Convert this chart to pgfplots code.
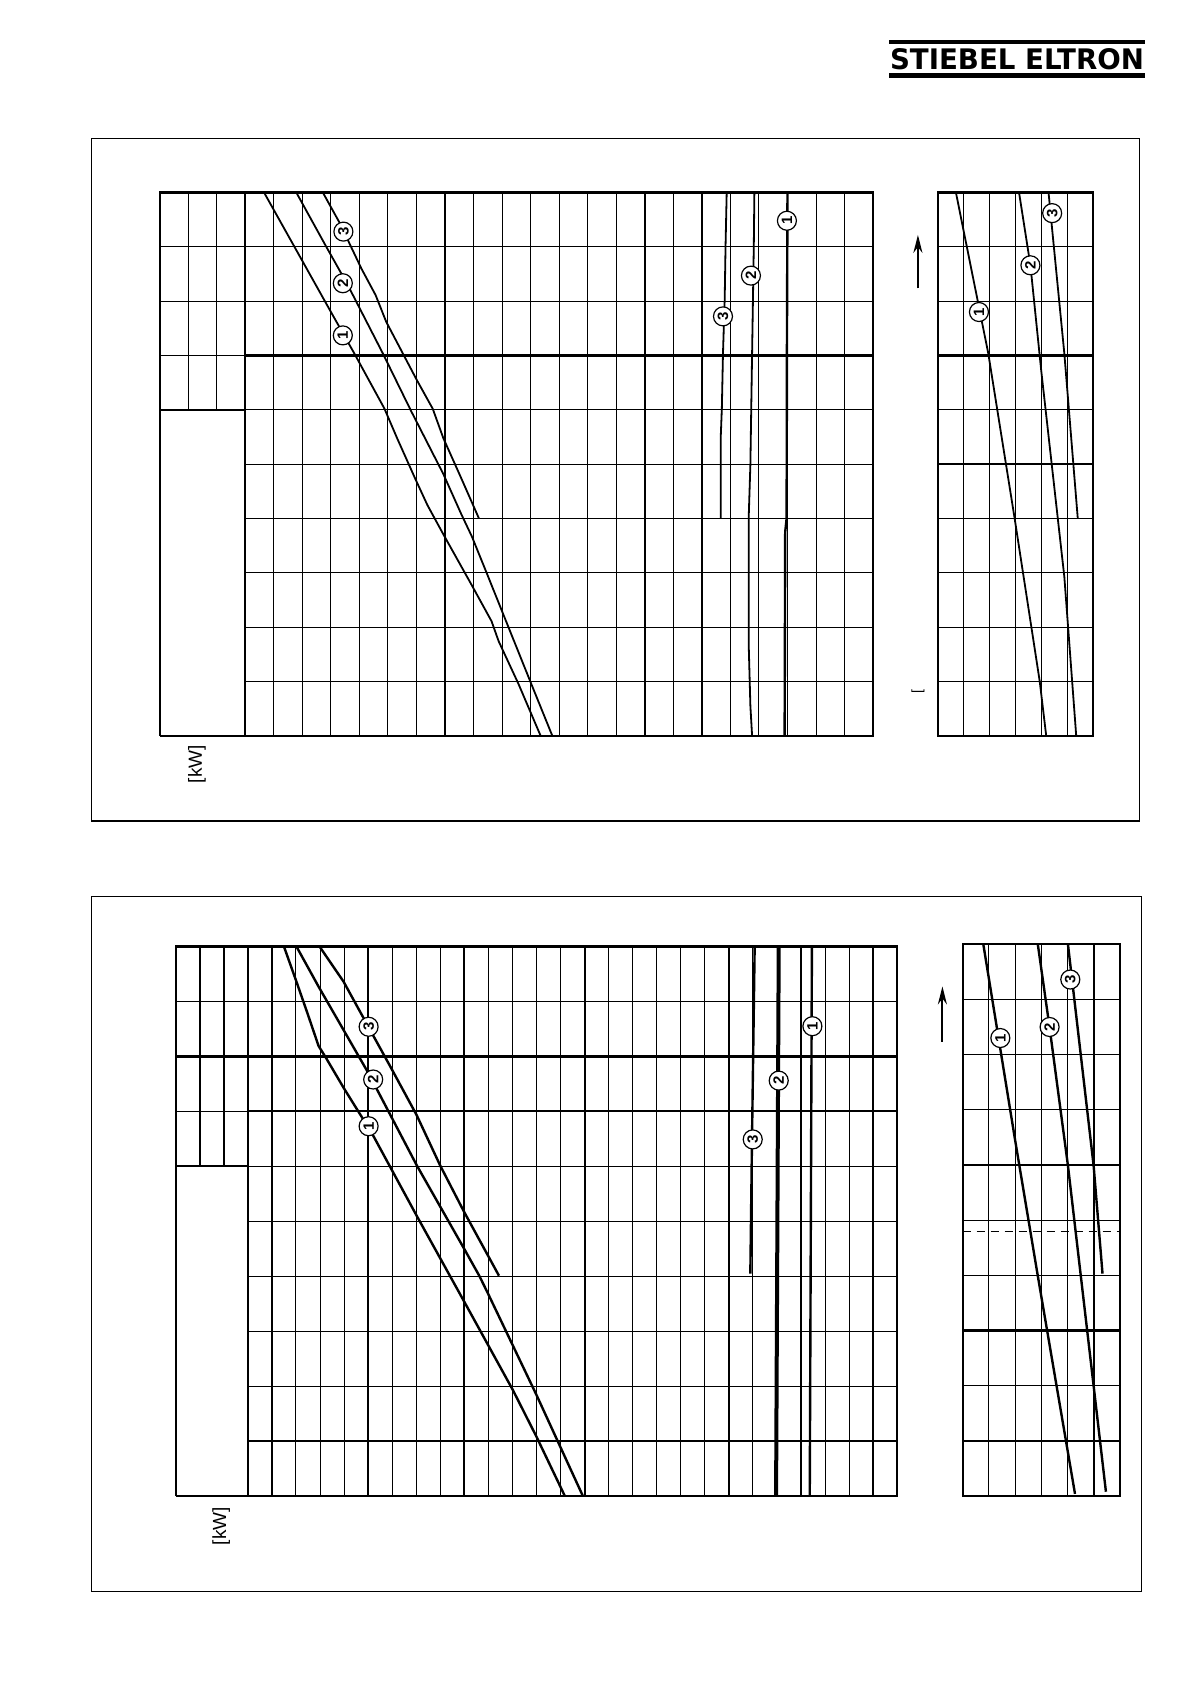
\documentclass[border=0pt]{standalone}
\usepackage{pgfplots}
\pgfplotsset{compat=1.18}
\usepackage{fontspec}
\setmainfont{Liberation Sans}
\usepackage{graphicx}
\usetikzlibrary{arrows.meta}

\pgfplotsset{
  sheet/.style={scale only axis, anchor=north west, ymin=0, ymax=10,
    axis line style={line width=1.1pt}, grid=major,
    major grid style={line width=0.5pt, black},
    tick style={draw=none}, xticklabel={\relax}, yticklabel={\relax},
    extra x tick label={\relax}, extra y tick label={\relax},
    extra tick style={grid=major, major grid style={line width=1.1pt, black}},
    clip=false},
  curve/.style={black, line width=0.9pt, line join=round},
  curveb/.style={black, line width=1.2pt, line join=round},
}
\tikzset{lbl/.style={circle, draw, fill=white, line width=0.6pt, inner sep=0pt,
  minimum size=9.5pt, font=\fontsize{7.5}{7.5}\selectfont\bfseries, rotate=90},
  uparrow/.style={line width=1pt, -{Stealth[length=9pt,width=4.5pt]}}}

\begin{document}
\begin{tikzpicture}
\path (0,0) rectangle (595pt,-842pt);

% logo
\fill (444.5pt,-20pt) rectangle (572.5pt,-22.2pt);
\fill (444.5pt,-36.7pt) rectangle (572.5pt,-39.2pt);
\node[anchor=base, inner sep=0pt] at (508.5pt,-34.65pt) {\resizebox{127pt}{10.5pt}{\fontspec{DejaVu Sans}\bfseries STIEBEL ELTRON}};

% frames
\draw[line width=0.6pt] (45.9pt,-69.45pt) rectangle (569.85pt,-410.5pt);
\draw[line width=0.6pt] (45.9pt,-448.2pt) rectangle (570.85pt,-795.85pt);

% ---------------- panel 1 ----------------
\begin{axis}[sheet, at={(79.8pt,-96.25pt)}, width=42.81pt, height=108.66pt,
  xmin=0, xmax=3, ymin=6, ymax=10, xtick={0,...,3}, ytick={6,...,10}]
\end{axis}
\begin{axis}[sheet, grid=none, at={(79.8pt,-204.91pt)}, width=42.81pt, height=162.99pt,
  xmin=0, xmax=3, ymin=0, ymax=6, xtick=\empty, ytick=\empty, axis lines*=left]
\end{axis}
\begin{axis}[sheet, at={(122.61pt,-96.25pt)}, width=313.94pt, height=271.65pt,
  xmin=3, xmax=25, xtick={3,...,25}, ytick={0,...,10},
  extra x ticks={10,17,19}, extra y ticks={7}]
\addplot[curve] coordinates {(3.66,10) (5.94,7.86) (6.82,7.04) (7.88,6.02) (8.32,5.48) (8.95,4.74) (9.38,4.25) (9.94,3.71) (10.94,2.77) (11.63,2.11) (11.88,1.74) (12.57,0.96) (13.35,0)};
\addplot[curve] coordinates {(4.79,10) (5.82,9.02) (6.57,8.32) (7.82,7.04) (8.82,5.97) (9.94,4.82) (10.57,4.08) (10.94,3.67) (11.45,3.01) (12.2,2.03) (12.95,1.05) (13.76,0)};
\addplot[curve] coordinates {(5.72,10) (6.32,9.43) (7.07,8.60) (7.57,8.11) (7.94,7.62) (8.44,7.12) (9.01,6.55) (9.57,6.02) (9.94,5.48) (10.57,4.74) (11.19,4.0)};
\addplot[curve] coordinates {(19.87,10) (19.83,9.02) (19.80,8.03) (19.74,7.04) (19.70,6.02) (19.66,5.48) (19.66,4.0)};
\addplot[curve] coordinates {(20.84,10) (20.82,9.02) (20.76,7.04) (20.70,4.99) (20.64,4.0) (20.64,1.70) (20.70,0.55) (20.76,0)};
\addplot[curveb] coordinates {(22.0,10) (21.98,7.04) (21.97,4.0) (21.92,3.75) (21.90,0)};
\node[lbl] at (axis cs:6.42,7.37) {1};
\node[lbl] at (axis cs:6.42,8.33) {2};
\node[lbl] at (axis cs:6.44,9.28) {3};
\node[lbl] at (axis cs:19.74,7.72) {3};
\node[lbl] at (axis cs:20.72,8.47) {2};
\node[lbl] at (axis cs:21.98,9.48) {1};
\end{axis}
\begin{axis}[sheet, at={(468.9pt,-96.25pt)}, width=77.61pt, height=271.65pt,
  xmin=0, xmax=6, xtick={0,...,6}, ytick={0,...,10}, extra y ticks={5,7}]
\addplot[curve] coordinates {(0.70,10) (1.95,7.04) (2.97,4.0) (3.94,1.0) (4.19,0)};
\addplot[curve] coordinates {(3.14,10) (3.58,8.66) (4.0,6.71) (4.89,2.93) (5.35,0)};
\addplot[curve] coordinates {(4.28,10) (4.89,7.04) (5.41,4.0)};
\node[lbl] at (axis cs:1.59,7.80) {1};
\node[lbl] at (axis cs:3.58,8.66) {2};
\node[lbl] at (axis cs:4.42,9.62) {3};
\end{axis}
\node[rotate=90, font=\fontsize{9.5}{9.5}\selectfont] at (98.5pt,-382pt) {[kW]};
\draw[uparrow] (458.95pt,-144.25pt) -- (458.95pt,-117.45pt);
\node[rotate=90, font=\fontsize{7}{7}\selectfont] at (458.95pt,-345.8pt) {[};

% ---------------- panel 2 ----------------
\begin{axis}[sheet, at={(87.85pt,-473.25pt)}, width=36.08pt, height=109.92pt,
  xmin=0, xmax=3, ymin=6, ymax=10, xtick={0,...,3}, ytick={6,...,10},
  extra x ticks={1,2}, extra y ticks={8}]
\end{axis}
\begin{axis}[sheet, grid=none, at={(87.85pt,-583.17pt)}, width=36.08pt, height=164.88pt,
  xmin=0, xmax=3, ymin=0, ymax=6, xtick=\empty, ytick=\empty, axis lines*=left]
\end{axis}
\begin{axis}[sheet, at={(123.93pt,-473.25pt)}, width=324.72pt, height=274.8pt,
  xmin=3, xmax=30, xtick={3,...,30}, ytick={0,...,10},
  extra x ticks={4,8,12,17,23,26,29}, extra y ticks={1,7,8}]
\addplot[curveb] coordinates {(4.50,10) (5.02,9.36) (5.49,8.77) (5.94,8.19) (6.24,7.98) (6.98,7.43) (8.16,6.60) (10.02,5.10) (11.98,3.55) (14.03,1.92) (15.0,1.08) (16.18,0)};
\addplot[curveb] coordinates {(5.02,10) (5.94,9.27) (8.02,7.69) (10.02,6.02) (11.98,4.51) (12.62,4.01) (12.99,3.68) (15.0,1.84) (16.93,0)};
\addplot[curveb] coordinates {(5.98,10) (6.98,9.36) (7.72,8.77) (8.98,7.77) (10.02,6.93) (10.99,6.02) (11.98,5.18) (13.44,4.01)};
\addplot[curveb] coordinates {(24.07,10) (23.96,6.52) (23.89,4.05)};
\addplot[black, line width=2pt] coordinates {(25.07,10) (24.96,0)};
\addplot[curveb] coordinates {(26.45,10) (26.36,0)};
\node[lbl] at (axis cs:8.02,6.73) {1};
\node[lbl] at (axis cs:8.21,7.58) {2};
\node[lbl] at (axis cs:8.02,8.54) {3};
\node[lbl] at (axis cs:23.99,6.49) {3};
\node[lbl] at (axis cs:25.07,7.56) {2};
\node[lbl] at (axis cs:26.47,8.55) {1};
\end{axis}
\begin{axis}[sheet, at={(481.3pt,-472.1pt)}, width=78.6pt, height=275.95pt,
  xmin=0, xmax=6, xtick={0,...,6}, ytick={0,...,10},
  extra x ticks={5}, extra y ticks={1,3,6}]
\addplot[black, line width=0.4pt, dash pattern=on 4pt off 3pt] coordinates {(0,4.8) (6,4.8)};
\addplot[curveb] coordinates {(0.79,10) (1.99,6.49) (2.87,3.99) (4.29,0.04)};
\addplot[curveb] coordinates {(2.87,10) (3.32,8.49) (4.02,5.99) (5.0,2.0) (5.47,0.08)};
\addplot[curveb] coordinates {(4.02,10) (5.0,5.99) (5.34,4.03)};
\node[lbl] at (axis cs:1.44,8.30) {1};
\node[lbl] at (axis cs:3.32,8.50) {2};
\node[lbl] at (axis cs:4.11,9.36) {3};
\end{axis}
\node[rotate=90, font=\fontsize{9.5}{9.5}\selectfont] at (110.6pt,-763pt) {[kW]};
\draw[uparrow] (471.2pt,-520.75pt) -- (471.2pt,-493.2pt);
\end{tikzpicture}
\end{document}
